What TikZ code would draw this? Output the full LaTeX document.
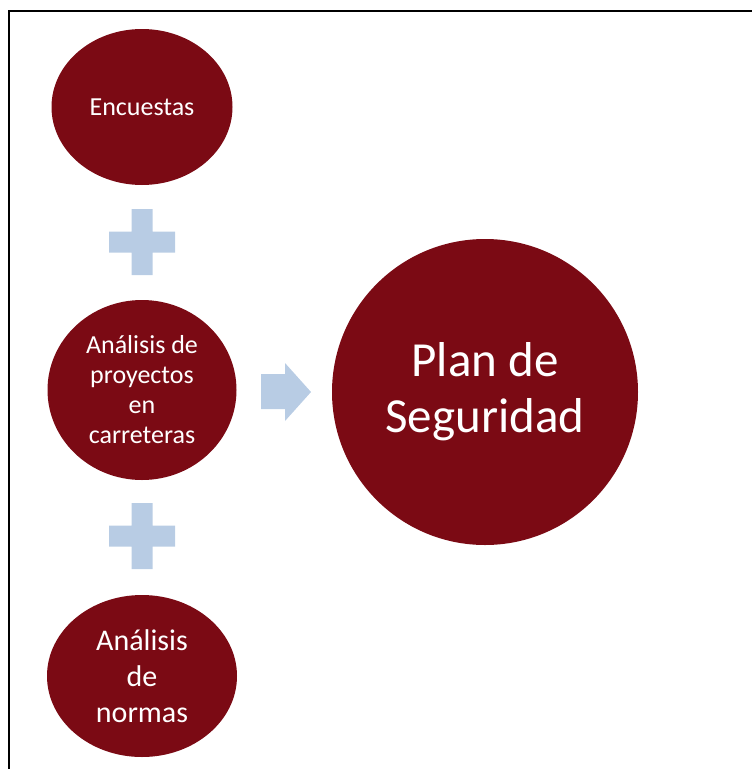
\documentclass[tikz,border=0pt]{standalone}
\usepackage{fontspec}
\setmainfont{Carlito}
\usetikzlibrary{shapes.geometric}
\definecolor{planred}{HTML}{7B0A14}
\definecolor{plusblue}{HTML}{B8CCE4}

\begin{document}
\begin{tikzpicture}[x=1pt,y=-1pt,
  blob/.style={ellipse,fill=planred,text=white,inner sep=0pt,align=center},
  signfill/.style={fill=plusblue}]
\useasboundingbox (0,0) rectangle (752,769);

% frame (top and left only)
\draw[line width=2pt] (752,11) -- (9,11) -- (9,769);

% the three sources
\node[blob,minimum width=181pt,minimum height=156pt,font=\fontsize{26}{30}\selectfont] (encuestas) at (142,107) {Encuestas};
\node[blob,minimum width=189pt,minimum height=180pt,font=\fontsize{26}{30}\selectfont] (proyectos) at (142,390) {Análisis de\\proyectos\\en\\carreteras};
\node[blob,minimum width=190pt,minimum height=162pt,font=\fontsize{30}{36}\selectfont] (normas) at (142,676) {Análisis\\de\\normas};

% plus signs
\foreach \y in {242,536}
  \fill[signfill] (131.5,\y-33) rectangle (152.5,\y+33)
                  (109,\y-10.5) rectangle (175,\y+10.5);

% arrow
\fill[signfill] (261,374) -- (285,374) -- (285,363) -- (311,392)
  -- (285,421) -- (285,409) -- (261,409) -- cycle;

% result
\node[blob,circle,minimum size=306pt,font=\fontsize{49}{56}\selectfont] (plan) at (485,392) {Plan de\\Seguridad};
\end{tikzpicture}
\end{document}
